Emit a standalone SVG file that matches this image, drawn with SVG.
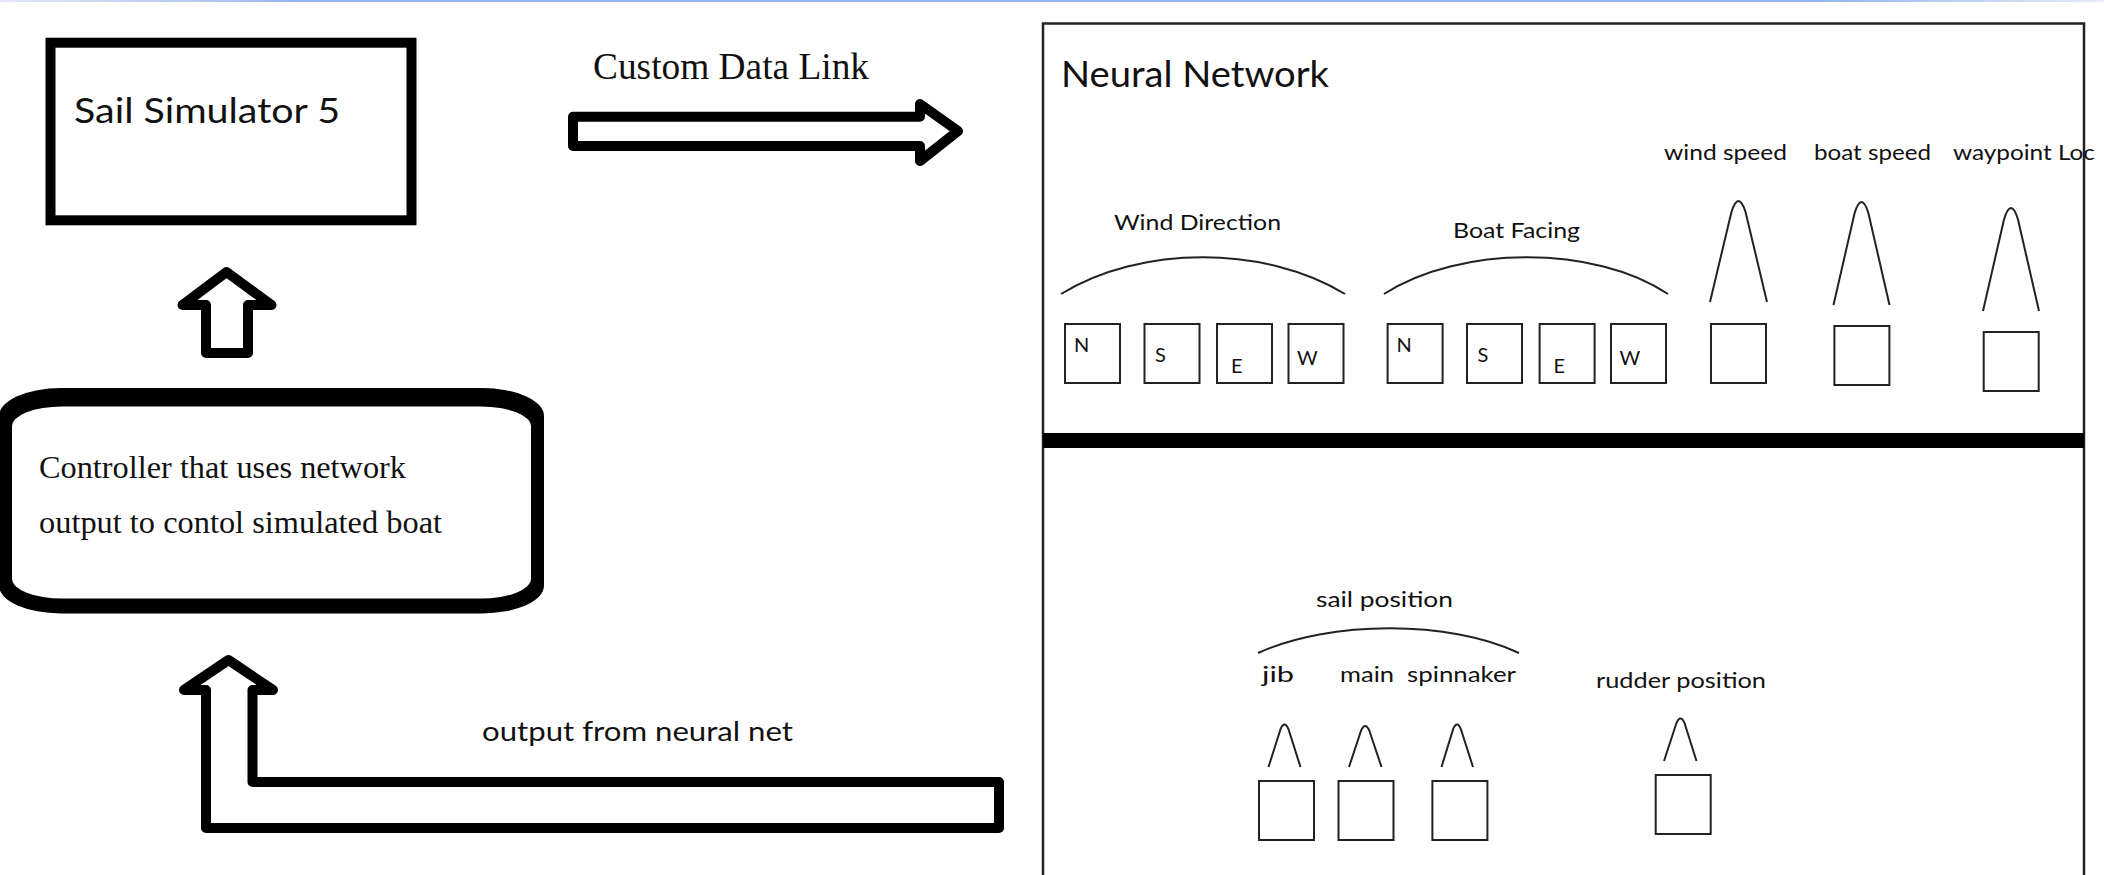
<svg xmlns="http://www.w3.org/2000/svg" width="2104" height="875" viewBox="0 0 2104 875">
<defs>
<linearGradient id="topbar" x1="0" y1="0" x2="1" y2="0">
<stop offset="0" stop-color="#e4e6f8"/>
<stop offset="0.12" stop-color="#a9c0ee"/>
<stop offset="0.14" stop-color="#8fb5eb"/>
<stop offset="0.86" stop-color="#8fb5eb"/>
<stop offset="1" stop-color="#e8eaf8"/>
</linearGradient>
</defs>
<style>
.sans{font-family:Lato,"Liberation Sans",sans-serif;fill:#111}
.serif{font-family:"Liberation Serif",serif;fill:#111}
.thick{fill:#fff;stroke:#000;stroke-width:10;stroke-linejoin:round}
.thin{fill:none;stroke:#222;stroke-width:2;stroke-linejoin:round}
.cell{fill:#fff;stroke:#222;stroke-width:2}
.lbl{font-size:21px}
.ltr{font-size:20px}
</style>
<rect x="0" y="0" width="2104" height="875" fill="#fff"/>
<rect x="0" y="0" width="2104" height="2" fill="url(#topbar)"/>

<g id="connectors">
<path class="thick" d="M573,146 L573,116.7 L920,116.7 L920,104 L958,131 L920,161 L920,146 Z"/>
<path class="thick" d="M206,353 L206,305 L182.5,305 L226.5,272 L271.5,305 L248,305 L248,353 Z"/>
<path class="thick" d="M206,828 L206,690 L184,690 L228.5,660 L273,690 L252.5,690 L252.5,782 L999,782 L999,828 Z"/>
<text class="serif" x="593" y="79" font-size="38" textLength="276" lengthAdjust="spacingAndGlyphs">Custom Data Link</text>
<text class="sans" x="482" y="741" font-size="26" textLength="311" lengthAdjust="spacingAndGlyphs">output from neural net</text>
</g>

<g id="sail-simulator">
<rect x="50.5" y="42.7" width="361" height="177.6" fill="#fff" stroke="#000" stroke-width="10"/>
<text class="sans" x="74" y="123" font-size="34" textLength="266" lengthAdjust="spacingAndGlyphs">Sail Simulator 5</text>
</g>

<g id="controller">
<rect x="-1" y="388" width="545" height="225.5" rx="62" ry="28" fill="#000"/>
<rect x="12" y="406.5" width="519" height="192" rx="50" ry="20" fill="#fff"/>
<text class="serif" x="39" y="478" font-size="32" textLength="367" lengthAdjust="spacingAndGlyphs">Controller that uses network</text>
<text class="serif" x="39" y="532.5" font-size="32" textLength="403" lengthAdjust="spacingAndGlyphs">output to contol simulated boat</text>
</g>

<g id="neural-network">
<path d="M1043,880 L1043,23.5 L2084,23.5 L2084,880" fill="none" stroke="#222" stroke-width="2.5"/>
<rect x="1043" y="433" width="1041" height="15" fill="#000"/>
<text class="sans" x="1061" y="87" font-size="36" textLength="268" lengthAdjust="spacingAndGlyphs">Neural Network</text>

<g id="wind-direction">
<text class="sans lbl" x="1114" y="230" textLength="167" lengthAdjust="spacingAndGlyphs">Wind Direction</text>
<path class="thin" d="M1061,294 C1140,245 1265,245 1345,294"/>
<rect class="cell" x="1065" y="324" width="55" height="59"/>
<rect class="cell" x="1144.5" y="324" width="55" height="59"/>
<rect class="cell" x="1217" y="324" width="55" height="59"/>
<rect class="cell" x="1288.5" y="324" width="55" height="59"/>
<text class="sans ltr" x="1074" y="351.5">N</text>
<text class="sans ltr" x="1155" y="361.5">S</text>
<text class="sans ltr" x="1231" y="372.5">E</text>
<text class="sans ltr" x="1297" y="364.5">W</text>
</g>

<g id="boat-facing">
<text class="sans lbl" x="1453" y="238" textLength="127" lengthAdjust="spacingAndGlyphs">Boat Facing</text>
<path class="thin" d="M1384,294 C1460,245 1595,245 1668,294"/>
<rect class="cell" x="1387.6" y="324" width="55" height="59"/>
<rect class="cell" x="1467" y="324" width="55" height="59"/>
<rect class="cell" x="1539.6" y="324" width="55" height="59"/>
<rect class="cell" x="1611" y="324" width="55" height="59"/>
<text class="sans ltr" x="1396.6" y="351.5">N</text>
<text class="sans ltr" x="1477.6" y="361.5">S</text>
<text class="sans ltr" x="1553.6" y="372.5">E</text>
<text class="sans ltr" x="1619.6" y="364.5">W</text>
</g>

<g id="wind-speed">
<text class="sans lbl" x="1664" y="160" textLength="123" lengthAdjust="spacingAndGlyphs">wind speed</text>
<path class="thin" d="M1710,302 L1731.4,212.2 Q1738.5,189.8 1745.6,212.2 L1767,302"/>
<rect class="cell" x="1711" y="324" width="55" height="59"/>
</g>

<g id="boat-speed">
<text class="sans lbl" x="1814" y="160" textLength="117" lengthAdjust="spacingAndGlyphs">boat speed</text>
<path class="thin" d="M1833.5,305 L1854.5,213.5 Q1861.5,190.6 1868.5,213.5 L1889.5,305"/>
<rect class="cell" x="1834.4" y="326" width="55" height="59"/>
</g>

<g id="waypoint-loc">
<text class="sans lbl" x="1953" y="160" textLength="142" lengthAdjust="spacingAndGlyphs">waypoint Loc</text>
<path class="thin" d="M1983,311 L2004,219.5 Q2011,196.6 2018,219.5 L2039,311"/>
<rect class="cell" x="1983.7" y="332" width="55" height="59"/>
</g>

<g id="sail-position">
<text class="sans lbl" x="1316" y="606.5" textLength="137" lengthAdjust="spacingAndGlyphs">sail position</text>
<path class="thin" d="M1258,653 C1330,620 1450,620 1519,653"/>
<text class="sans lbl" x="1262" y="681.5" font-size="22" textLength="32" lengthAdjust="spacingAndGlyphs">jib</text>
<text class="sans lbl" x="1340" y="681.5" textLength="54" lengthAdjust="spacingAndGlyphs">main</text>
<text class="sans lbl" x="1407" y="681.5" textLength="109" lengthAdjust="spacingAndGlyphs">spinnaker</text>
<path class="thin" d="M1268.5,767 L1280.5,729.2 Q1284.5,719.7 1288.5,729.2 L1300.5,767"/>
<path class="thin" d="M1349,767 L1361.1,730.5 Q1365.2,721.35 1369.3,730.5 L1381.5,767"/>
<path class="thin" d="M1441.5,767 L1453.1,729.2 Q1457,719.7 1460.9,729.2 L1473,767"/>
<rect class="cell" x="1259" y="781" width="55" height="59"/>
<rect class="cell" x="1338.5" y="781" width="55" height="59"/>
<rect class="cell" x="1432.4" y="781" width="55" height="59"/>
</g>

<g id="rudder-position">
<text class="sans lbl" x="1596" y="688" textLength="170" lengthAdjust="spacingAndGlyphs">rudder position</text>
<path class="thin" d="M1664,761 L1676.4,723.2 Q1680.5,713.7 1684.6,723.2 L1696.5,761"/>
<rect class="cell" x="1655.7" y="775" width="55" height="59"/>
</g>
</g>
</svg>
